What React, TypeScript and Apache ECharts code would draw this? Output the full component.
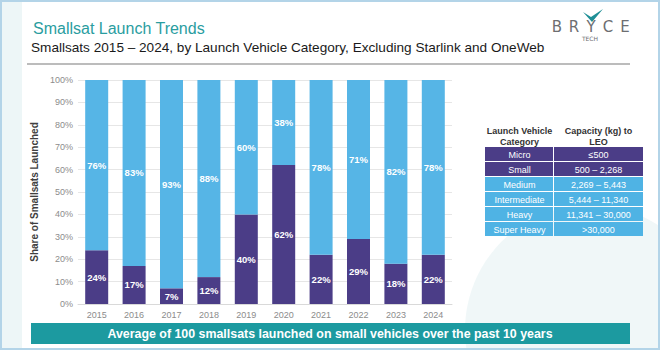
import React, { useEffect, useRef } from "react";
import * as echarts from "echarts";

const years = ["2015", "2016", "2017", "2018", "2019", "2020", "2021", "2022", "2023", "2024"];
const smallVehicleShare = [24, 17, 7, 12, 40, 62, 22, 29, 18, 22];
const otherVehicleShare = [76, 83, 93, 88, 60, 38, 78, 71, 82, 78];

const tableCategories = ["Micro", "Small", "Medium", "Intermediate", "Heavy", "Super Heavy"];
const tableCapacities = ["≤500", "500 – 2,268", "2,269 – 5,443", "5,444 – 11,340", "11,341 – 30,000", ">30,000"];
const tableIsSmall = [true, true, false, false, false, false];

const PURPLE = "#4b3d87";
const BLUE = "#56b5e6";
const TEAL = "#1c9aa0";
const FONT = "'Liberation Sans', Arial, sans-serif";

export default function App() {
  const ref = useRef<HTMLDivElement>(null);
  useEffect(() => {
    if (!ref.current) return;
    const chart = echarts.init(ref.current, null, { renderer: "svg" });

    const tX = 485, tDiv = 554, tR = 643, rowTop = 147, rowH = 15;
    const tableEls: any[] = [];
    tableEls.push({ type: "text", style: { text: "Launch Vehicle\nCategory", x: (tX + tDiv) / 2, y: 136, align: "center", verticalAlign: "middle", font: `bold 9px ${FONT}`, fill: "#333", lineHeight: 11 } });
    tableEls.push({ type: "text", style: { text: "Capacity (kg) to\nLEO", x: (tDiv + tR) / 2, y: 136, align: "center", verticalAlign: "middle", font: `bold 9px ${FONT}`, fill: "#333", lineHeight: 11 } });
    tableCategories.forEach((c, i) => {
      const y = rowTop + i * rowH;
      const fill = tableIsSmall[i] ? PURPLE : "#4fb3e4";
      tableEls.push({ type: "rect", shape: { x: tX, y, width: tDiv - tX - 1, height: rowH - 1 }, style: { fill } });
      tableEls.push({ type: "rect", shape: { x: tDiv, y, width: tR - tDiv, height: rowH - 1 }, style: { fill } });
      tableEls.push({ type: "text", style: { text: c, x: (tX + tDiv) / 2, y: y + rowH / 2, align: "center", verticalAlign: "middle", font: `9px ${FONT}`, fill: "#fff" } });
      tableEls.push({ type: "text", style: { text: tableCapacities[i], x: (tDiv + tR) / 2, y: y + rowH / 2, align: "center", verticalAlign: "middle", font: `9px ${FONT}`, fill: "#fff" } });
    });

    const logoLetters = ["B", "R", "Y", "C", "E"];
    const logoEls = logoLetters.map((l, i) => ({
      type: "text",
      style: { text: l, x: 557 + i * 17, y: 27, align: "center", verticalAlign: "middle", font: `15px 'DejaVu Sans', sans-serif`, fill: "#6d6e71" },
    }));

    chart.setOption({
      animation: false,
      backgroundColor: "#ffffff",
      grid: { left: 78, right: 208, top: 80, bottom: 46, containLabel: false },
      xAxis: {
        type: "category",
        data: years,
        axisLine: { show: true, lineStyle: { color: "#d9d9d9" } },
        axisTick: { show: false },
        axisLabel: { color: "#8c8c8c", fontSize: 9, fontFamily: FONT, margin: 6 },
      },
      yAxis: {
        type: "value",
        min: 0,
        max: 100,
        interval: 10,
        name: "Share of Smallsats Launched",
        nameLocation: "middle",
        nameGap: 38,
        nameTextStyle: { color: "#404040", fontSize: 10, fontWeight: "bold", fontFamily: FONT },
        axisLine: { show: false },
        axisTick: { show: false },
        axisLabel: { color: "#8c8c8c", fontSize: 9, fontFamily: FONT, formatter: "{value}%", margin: 5 },
        splitLine: { lineStyle: { color: "#e6e6e6" } },
      },
      series: [
        {
          type: "bar",
          stack: "s",
          data: smallVehicleShare,
          barWidth: 23,
          itemStyle: { color: PURPLE },
          label: { show: true, position: "inside", formatter: "{c}%", color: "#fff", fontSize: 9.5, fontWeight: "bold", fontFamily: FONT },
        },
        {
          type: "bar",
          stack: "s",
          data: otherVehicleShare,
          barWidth: 23,
          itemStyle: { color: BLUE },
          label: { show: true, position: "inside", formatter: "{c}%", color: "#fff", fontSize: 9.5, fontWeight: "bold", fontFamily: FONT },
        },
      ],
      graphic: [
        { type: "rect", z: -10, shape: { x: 0, y: 0, width: 22, height: 350 }, style: { fill: "#e9f4f5", opacity: 0.8 } },
        { type: "circle", z: -10, shape: { cx: 590, cy: 330, r: 125 }, style: { fill: "#e6f2f4", opacity: 0.6 } },
        { type: "rect", z: 100, shape: { x: 1, y: 1, width: 658, height: 348 }, style: { fill: "none", stroke: "#b3d4e8", lineWidth: 2 } },
        { type: "text", style: { text: "Smallsat Launch Trends", x: 33, y: 28, verticalAlign: "middle", font: `16px ${FONT}`, fill: "#2a9d9f" } },
        { type: "text", style: { text: "Smallsats 2015 – 2024, by Launch Vehicle Category, Excluding Starlink and OneWeb", x: 31, y: 47, verticalAlign: "middle", font: `13.6px ${FONT}`, fill: "#1a1a1a" } },
        { type: "line", shape: { x1: 27, y1: 64, x2: 630, y2: 64 }, style: { stroke: "#a6a6a6", lineWidth: 1.5 } },
        { type: "polygon", shape: { points: [[583, 12], [591, 17], [603, 9], [592, 22]] }, style: { fill: "#1f8f96" } },
        ...logoEls,
        { type: "text", style: { text: "TECH", x: 590, y: 38, align: "center", verticalAlign: "middle", font: `6px 'DejaVu Sans', sans-serif`, fill: "#6d6e71" } },
        ...tableEls,
        { type: "rect", shape: { x: 31, y: 323, width: 599, height: 21 }, style: { fill: TEAL } },
        { type: "text", style: { text: "Average of 100 smallsats launched on small vehicles over the past 10 years", x: 330, y: 333.5, align: "center", verticalAlign: "middle", font: `bold 12.4px ${FONT}`, fill: "#ffffff" } },
      ],
    });
    return () => chart.dispose();
  }, []);
  return <div ref={ref} style={{ position: "fixed", left: 0, top: 0, width: 660, height: 350 }} />;
}
